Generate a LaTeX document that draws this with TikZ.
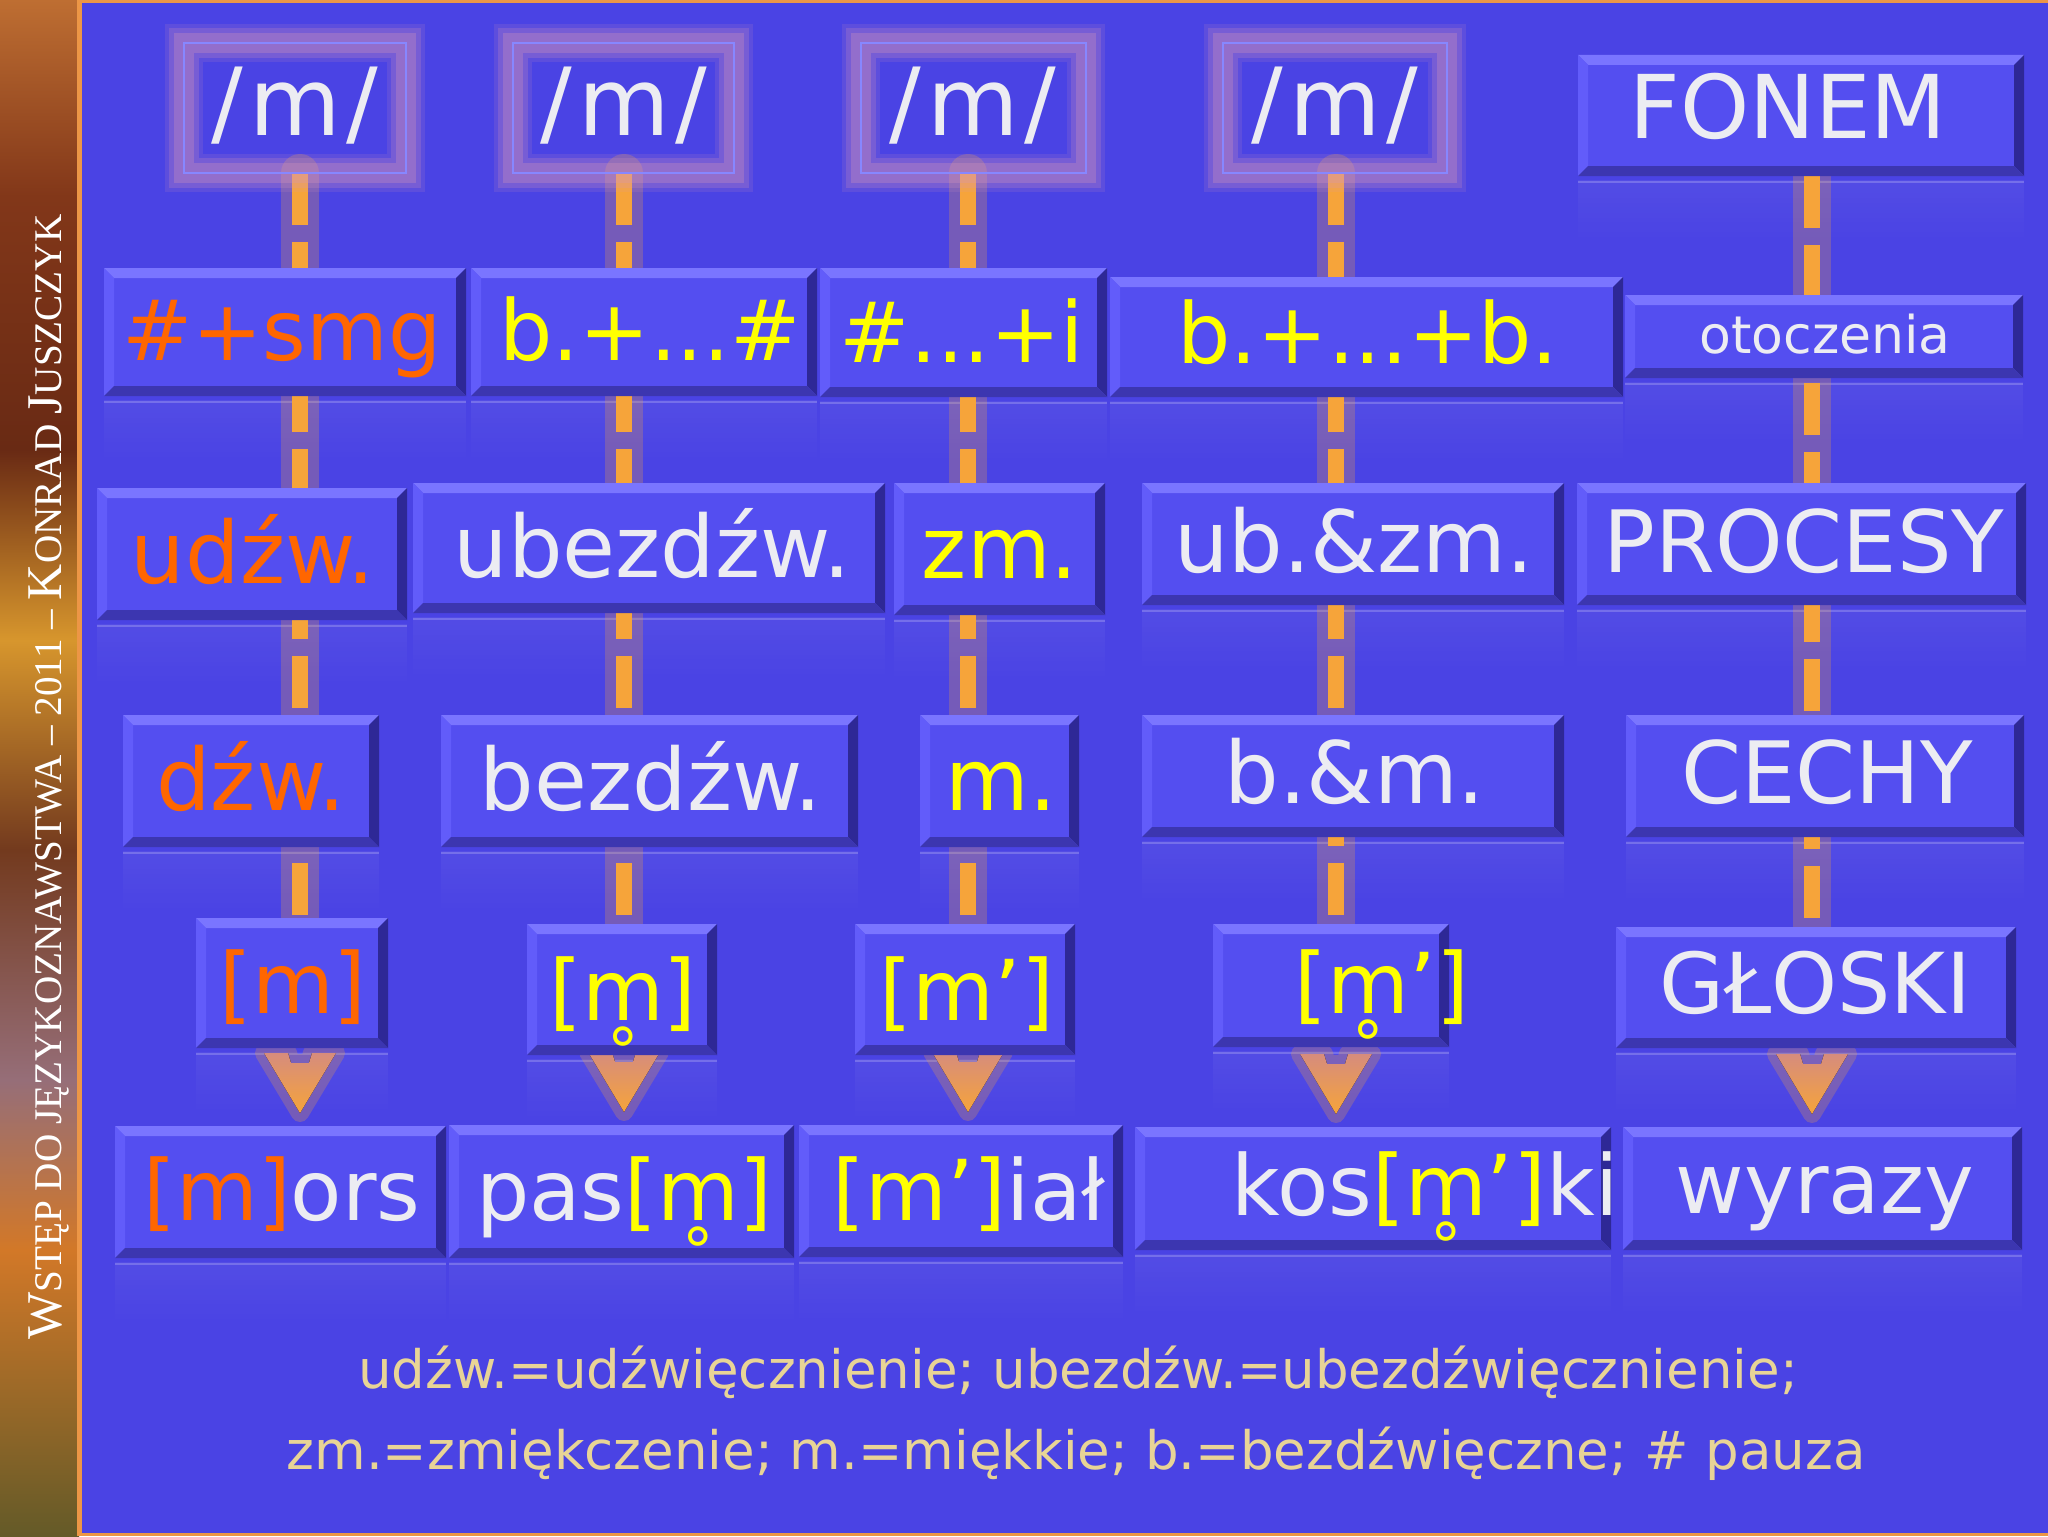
\documentclass[tikz,border=0pt]{standalone}
\usepackage{fontspec}
\usepackage{graphicx}
\setmainfont{DejaVu Sans}
\newfontfamily\sidefont{Liberation Serif}
\usetikzlibrary{fadings}
\pgfdeclarelayer{bgzero}
\pgfdeclarelayer{bgone}
\pgfdeclarelayer{fore}
\pgfsetlayers{bgzero,bgone,main,fore}
\definecolor{bgblue}{RGB}{74,67,228}
\definecolor{boxblue}{RGB}{84,78,240}
\definecolor{bevtop}{RGB}{122,117,255}
\definecolor{bevleft}{RGB}{98,92,250}
\definecolor{bevright}{RGB}{46,40,150}
\definecolor{bevbot}{RGB}{60,54,176}
\definecolor{txtwhite}{RGB}{236,236,242}
\definecolor{txtorange}{RGB}{255,102,0}
\definecolor{txtyellow}{RGB}{255,255,0}
\definecolor{arrorange}{RGB}{246,164,58}
\definecolor{arrpink}{RGB}{214,140,125}
\definecolor{glowc}{RGB}{215,150,185}
\definecolor{frameline}{RGB}{135,135,255}
\definecolor{notetan}{RGB}{232,212,150}
\definecolor{edgeorange}{RGB}{236,150,70}
\definecolor{sA}{RGB}{190,110,50}
\definecolor{sB}{RGB}{130,55,25}
\definecolor{sC}{RGB}{105,42,20}
\definecolor{sD}{RGB}{215,150,45}
\definecolor{sE}{RGB}{115,58,30}
\definecolor{sF}{RGB}{150,110,120}
\definecolor{sG}{RGB}{210,120,40}
\definecolor{sH}{RGB}{100,90,40}
\tikzfading[name=fadedown, top color=transparent!0, bottom color=transparent!100]
\newcommand{\mring}{\ooalign{m\cr\hidewidth\raisebox{-0.64em}{\scalebox{0.75}{°}}\hidewidth\cr}}
\newcommand{\slm}{/\kern0.06em m\kern0.06em/}
\newcommand{\bigc}[1]{{\fontsize{25}{25}\selectfont #1}}
\newcommand{\smc}[1]{{\fontsize{19.6}{19.6}\selectfont #1}}
\tikzset{
  bx/.style={fill=boxblue, inner sep=0pt, outer sep=0pt, path picture={
     \fill[bevtop] (path picture bounding box.north west) -- (path picture bounding box.north east) -- ([shift={(-5pt,-5pt)}]path picture bounding box.north east) -- ([shift={(5pt,-5pt)}]path picture bounding box.north west) -- cycle;
     \fill[bevleft] (path picture bounding box.north west) -- ([shift={(5pt,-5pt)}]path picture bounding box.north west) -- ([shift={(5pt,5pt)}]path picture bounding box.south west) -- (path picture bounding box.south west) -- cycle;
     \fill[bevright] (path picture bounding box.north east) -- ([shift={(-5pt,-5pt)}]path picture bounding box.north east) -- ([shift={(-5pt,5pt)}]path picture bounding box.south east) -- (path picture bounding box.south east) -- cycle;
     \fill[bevbot] (path picture bounding box.south west) -- ([shift={(5pt,5pt)}]path picture bounding box.south west) -- ([shift={(-5pt,5pt)}]path picture bounding box.south east) -- (path picture bounding box.south east) -- cycle;
  }},
  mbox/.style={inner sep=0pt, outer sep=0pt, draw=frameline, line width=0.8pt,
     preaction={draw=glowc, draw opacity=0.14, line width=19pt},
     preaction={draw=glowc, draw opacity=0.22, line width=15pt},
     preaction={draw=glowc, draw opacity=0.3, line width=10pt}},
  lbl/.style={anchor=base, inner sep=0pt, outer sep=0pt, text=txtwhite},
  note/.style={anchor=base, inner sep=0pt, text=notetan, font=\fontsize{26.5}{26.5}\selectfont},
  dashglow/.style={line width=19pt, draw=arrorange, draw opacity=0.25, line cap=round},
  dashcore/.style={line width=8pt, draw=arrorange, dash pattern=on 26pt off 8.5pt},
  chevfill/.style={top color=arrpink, bottom color=arrorange,
     preaction={draw=arrorange, draw opacity=0.25, line width=9pt, line join=round}},
}
\newcommand{\bx}[6]{%
  \pgfmathsetmacro\bxw{(#4-#2)*0.5}%
  \pgfmathsetmacro\bxh{(#5-#3)*0.5}%
  \node[#6,minimum width=\bxw pt,minimum height=\bxh pt] (#1) at ({(#2+#4)/2},{(#3+#5)/2}) {};
}
\newcommand{\tx}[5]{%
  \node[lbl,font=\fontsize{#4}{#4}\selectfont] (#1) at (#2,#3) {#5};
}
\newcommand{\refl}[1]{%
  \fill[white, fill opacity=0.05, path fading=fadedown] ([yshift=-2pt]#1.south west) rectangle ([yshift=-34pt]#1.south east);
  \draw[white, draw opacity=0.2, line width=1.2pt] ([yshift=-3pt]#1.south west) -- ([yshift=-3pt]#1.south east);
}
\begin{document}
\begin{tikzpicture}[x=0.5pt,y=-0.5pt]
\useasboundingbox (0,0) rectangle (2048,1536);
\begin{pgfonlayer}{bgzero}
  \fill[bgblue] (0,0) rectangle (2048,1536);
  \shade[top color=sA, bottom color=sB] (0,0) rectangle (79,196);
  \shade[top color=sB, bottom color=sC] (0,196) rectangle (79,450);
  \shade[top color=sC, bottom color=sD] (0,450) rectangle (79,640);
  \shade[top color=sD, bottom color=sE] (0,640) rectangle (79,850);
  \shade[top color=sE, bottom color=sF] (0,850) rectangle (79,1080);
  \shade[top color=sF, bottom color=sG] (0,1080) rectangle (79,1250);
  \shade[top color=sG, bottom color=sH] (0,1250) rectangle (79,1536);
  \fill[edgeorange] (77,0) rectangle (82,1536);
  \fill[edgeorange] (77,0) rectangle (2048,3);
  \fill[edgeorange] (77,1533) rectangle (2048,1536);
\end{pgfonlayer}
\node[rotate=90, anchor=base, inner sep=0pt, text=white] (side) at (61,777)
  {\sidefont\bigc{W}\smc{STĘP DO JĘZYKOZNAWSTWA – 2011 – }\bigc{K}\smc{ONRAD }\bigc{J}\smc{USZCZYK}};
\coordinate (c1) at (300,0);
\coordinate (c2) at (624,0);
\coordinate (c3) at (968,0);
\coordinate (c4) at (1336,0);
\coordinate (c5) at (1812,0);
% row 1
\bx{m1}{184}{43}{406}{173}{mbox}
\bx{m2}{513}{43}{734}{173}{mbox}
\bx{m3}{861}{43}{1086}{173}{mbox}
\bx{m4}{1223}{43}{1447}{173}{mbox}
\bx{fon}{1578}{55}{2024}{176}{bx}
% row 2
\bx{smg}{104}{268}{466}{396}{bx}
\bx{bhash}{471}{268}{817}{396}{bx}
\bx{hashi}{820}{268}{1107}{397}{bx}
\bx{bb}{1110}{277}{1623}{397}{bx}
\bx{otocz}{1625}{295}{2023}{378}{bx}
% row 3
\bx{udzw}{97}{488}{407}{620}{bx}
\bx{ubez}{413}{483}{885}{613}{bx}
\bx{zm}{894}{483}{1105}{615}{bx}
\bx{ubzm}{1142}{483}{1564}{605}{bx}
\bx{proc}{1577}{483}{2026}{605}{bx}
% row 4
\bx{dzw}{123}{715}{379}{847}{bx}
\bx{bezdzw}{441}{715}{858}{847}{bx}
\bx{mm}{920}{715}{1079}{847}{bx}
\bx{bm}{1142}{715}{1564}{837}{bx}
\bx{cechy}{1626}{715}{2024}{837}{bx}
% row 5
\bx{ma}{196}{918}{388}{1048}{bx}
\bx{mb}{527}{924}{717}{1055}{bx}
\bx{mc}{855}{924}{1075}{1055}{bx}
\bx{md}{1213}{924}{1449}{1047}{bx}
\bx{glos}{1616}{927}{2016}{1048}{bx}
% row 6
\bx{wa}{115}{1126}{446}{1258}{bx}
\bx{wb}{449}{1125}{794}{1258}{bx}
\bx{wc}{799}{1125}{1123}{1257}{bx}
\bx{wd}{1135}{1127}{1611}{1250}{bx}
\bx{wyr}{1623}{1127}{2022}{1250}{bx}
\begin{pgfonlayer}{bgone}
  \foreach \nm in {fon,smg,bhash,hashi,bb,otocz,udzw,ubez,zm,ubzm,proc,dzw,bezdzw,mm,bm,cechy,ma,mb,mc,md,glos,wa,wb,wc,wd,wyr}{\refl{\nm}}
  \foreach \ua/\ub/\cc in {m1/ma/c1, m2/mb/c2, m3/mc/c3, m4/md/c4, fon/glos/c5}{
    \draw[dashglow] (\ua.south -| \cc) -- (\ub.north -| \cc);
    \draw[dashcore] (\ua.south -| \cc) -- (\ub.north -| \cc);
  }
  \foreach \ua/\ub/\cc in {ma/wa/c1, mb/wb/c2, mc/wc/c3, md/wd/c4, glos/wyr/c5}{
    \path (\ub.north -| \cc) ++(0,-13) coordinate (tip-\ub);
    \fill[chevfill] ([shift={(-18pt,30pt)}]tip-\ub) -- ([shift={(-6pt,30pt)}]tip-\ub) -- ([shift={(-4.5pt,25pt)}]tip-\ub) -- ([shift={(4.5pt,25pt)}]tip-\ub) -- ([shift={(6pt,30pt)}]tip-\ub) -- ([shift={(18pt,30pt)}]tip-\ub) -- (tip-\ub) -- cycle;
  }
\end{pgfonlayer}
\begin{pgfonlayer}{fore}
\tx{tmone}{295}{135}{47}{\slm}
\tx{tmtwo}{624}{135}{47}{\slm}
\tx{tmthree}{973}{135}{47}{\slm}
\tx{tmfour}{1335}{135}{47}{\slm}
\tx{tfon}{1788}{138}{44}{FONEM}
\tx{tsmg}{282}{360}{42}{\color{txtorange}\#+smg}
\tx{tbh}{650}{360}{42}{\color{txtyellow}b.+...\#}
\tx{thi}{962}{362}{42}{\color{txtyellow}\#...+i}
\tx{tbb}{1368}{363}{42}{\color{txtyellow}b.+...+b.}
\tx{toc}{1825}{353}{26}{otoczenia}
\tx{tudzw}{253}{583}{43}{\color{txtorange}udźw.}
\tx{tubez}{652}{577}{43}{ubezdźw.}
\tx{tzm}{1000}{578}{43}{\color{txtyellow}zm.}
\tx{tubzm}{1354}{572}{43}{ub.\&zm.}
\tx{tproc}{1804}{572}{43}{PROCESY}
\tx{tdzw}{251}{810}{43}{\color{txtorange}dźw.}
\tx{tbez}{651}{810}{43}{bezdźw.}
\tx{tm}{1001}{810}{43}{\color{txtyellow}m.}
\tx{tbm}{1355}{803}{43}{b.\&m.}
\tx{tcech}{1827}{803}{43}{CECHY}
\tx{tma}{293}{1013}{42}{\color{txtorange}[m]}
\tx{tmb}{623}{1020}{42}{\color{txtyellow}[\mring]}
\tx{tmc}{967}{1020}{42}{\color{txtyellow}[m’]}
\tx{tmd}{1382}{1013}{42}{\color{txtyellow}[\mring’]}
\tx{tglos}{1815}{1013}{42}{GŁOSKI}
\tx{twa}{282}{1220}{42}{{\color{txtorange}[m]}ors}
\tx{twb}{624}{1220}{42}{pas{\color{txtyellow}[\mring]}}
\tx{twc}{969}{1220}{42}{{\color{txtyellow}[m’]}iał}
\tx{twd}{1425}{1215}{42}{kos{\color{txtyellow}[\mring’]}ki}
\tx{twyr}{1825}{1213}{42}{wyrazy}
\node[note] (nline1) at (1078,1388) {udźw.=udźwięcznienie; ubezdźw.=ubezdźwięcznienie;};
\node[note] (nline2) at (1076,1469) {zm.=zmiękczenie; m.=miękkie; b.=bezdźwięczne; \# pauza};
\end{pgfonlayer}
\end{tikzpicture}
\end{document}
